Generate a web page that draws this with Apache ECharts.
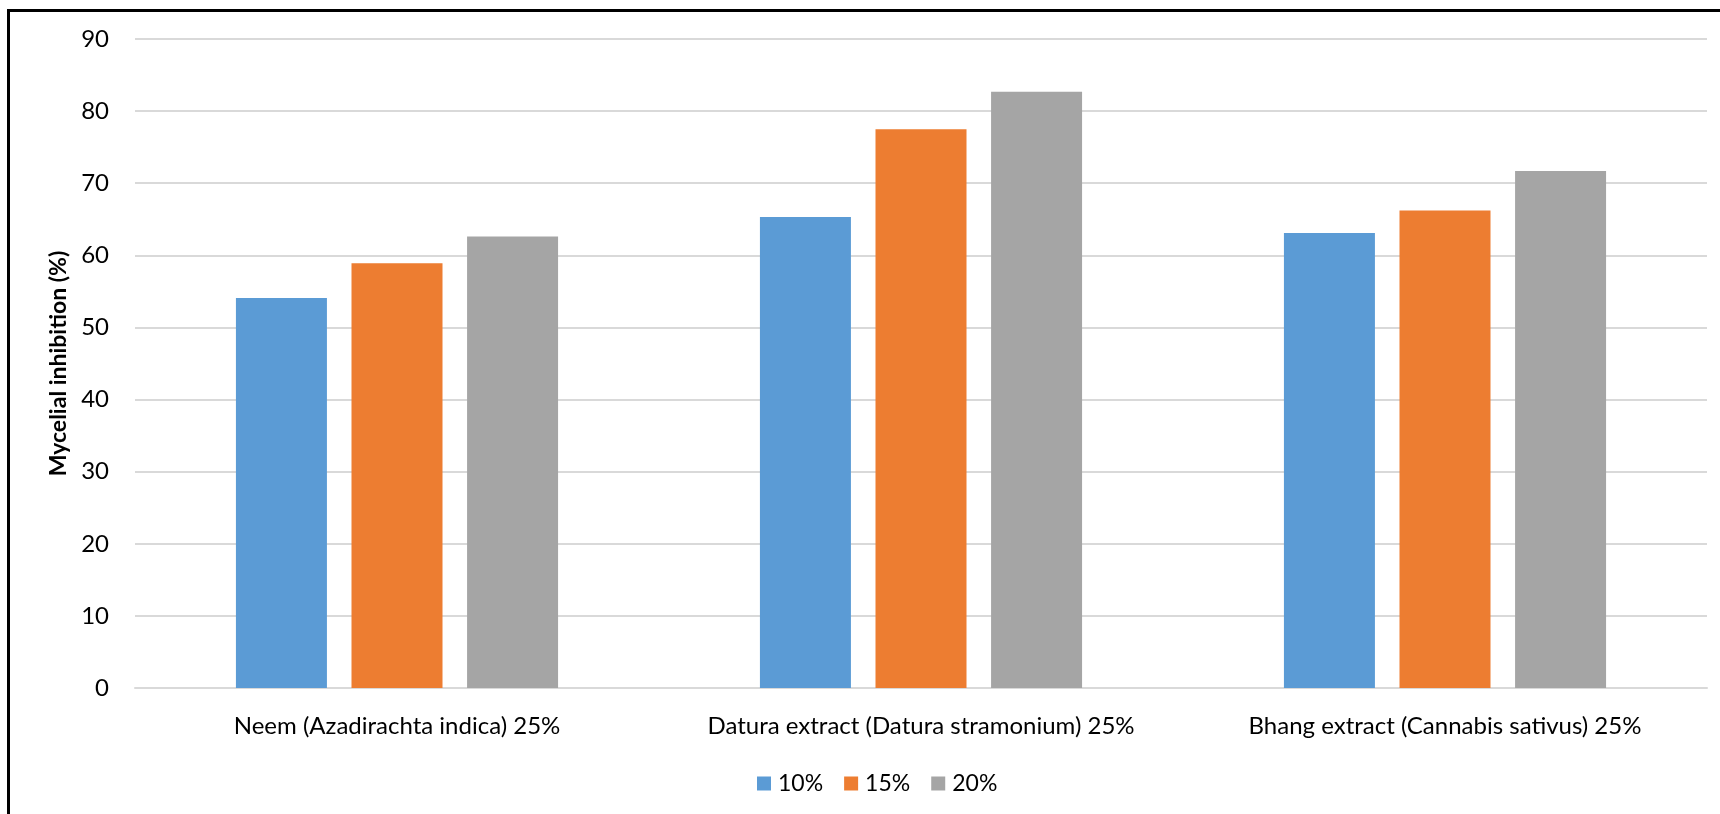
<!DOCTYPE html>
<html>
<head>
<meta charset="utf-8">
<title>Mycelial inhibition</title>
<script src="https://cdn.jsdelivr.net/npm/echarts@6/dist/echarts.min.js"></script>
<style>
  html, body { margin: 0; padding: 0; background: #fff; }
  #chart { width: 1720px; height: 814px; }
</style>
</head>
<body>
<div id="chart"></div>
<script>
// Plant extracts (each at 25%) and the mycelial inhibition (%) at three doses
const categories = [
  'Neem (Azadirachta indica) 25%',
  'Datura extract (Datura stramonium) 25%',
  'Bhang extract (Cannabis sativus) 25%'
];
const seriesNames = ['10%', '15%', '20%'];
const values10 = [54.1, 65.3, 63.1];
const values15 = [58.9, 77.5, 66.2];
const values20 = [62.6, 82.7, 71.7];
const seriesColors = ['#5B9BD5', '#ED7D31', '#A5A5A5'];
const yTicks = { min: 0, max: 90, interval: 10 };

const FONT = 'Lato, "Open Sans", sans-serif';
const chart = echarts.init(document.getElementById('chart'), null, { renderer: 'canvas' });

const seriesValues = [values10, values15, values20];

chart.setOption({
  animation: false,
  backgroundColor: '#ffffff',
  textStyle: { fontFamily: FONT },
  grid: { left: 135, right: 13, top: 39, bottom: 126 },
  legend: {
    left: 757,
    top: 772,
    padding: 0,
    itemWidth: 14,
    itemHeight: 14,
    itemGap: 21,
    icon: 'rect',
    data: seriesNames,
    textStyle: { fontFamily: FONT, fontSize: 23, color: '#000', padding: [0, 0, 0, 2] }
  },
  xAxis: {
    type: 'category',
    data: categories,
    axisLine: { show: true, lineStyle: { color: '#d9d9d9', width: 2 } },
    axisTick: { show: false },
    axisLabel: { fontFamily: FONT, fontSize: 24, color: '#000', margin: 26, interval: 0 },
    splitLine: { show: false }
  },
  yAxis: {
    type: 'value',
    min: yTicks.min,
    max: yTicks.max,
    interval: yTicks.interval,
    name: 'Mycelial inhibition (%)',
    nameLocation: 'middle',
    nameGap: 63,
    nameRotate: 90,
    nameTextStyle: { fontFamily: FONT, fontSize: 23, fontWeight: 'bold', color: '#000' },
    axisLine: { show: false },
    axisTick: { show: false },
    axisLabel: { fontFamily: FONT, fontSize: 24, color: '#000', margin: 26 },
    splitLine: { lineStyle: { color: '#d9d9d9', width: 2 } }
  },
  series: seriesNames.map((name, i) => ({
    name: name,
    type: 'bar',
    data: seriesValues[i],
    barWidth: 91,
    barGap: '27%',
    itemStyle: { color: seriesColors[i] }
  })),
  graphic: [{
    type: 'polyline',
    silent: true,
    z: 100,
    shape: { points: [[8.5, 814], [8.5, 10.5], [1720, 10.5]] },
    style: { stroke: '#000', lineWidth: 3, fill: null }
  }]
});
</script>
</body>
</html>
